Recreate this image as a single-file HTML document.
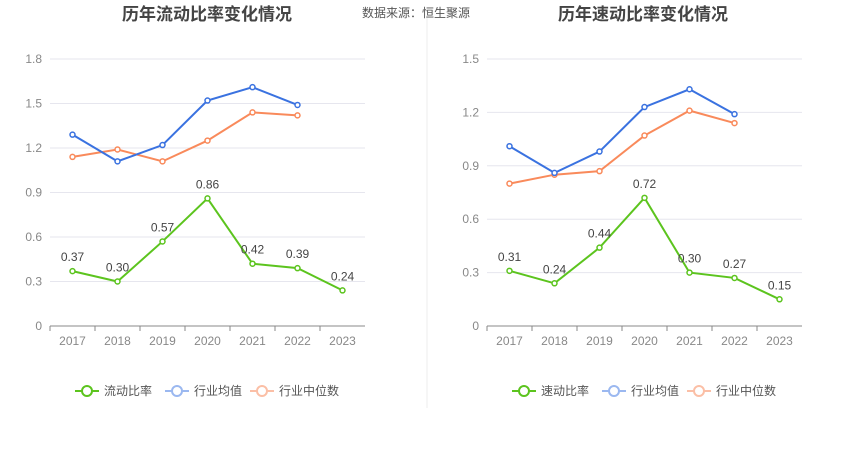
<!DOCTYPE html>
<html><head><meta charset="utf-8"><style>
body{margin:0;background:#fff;font-family:"Liberation Sans","Noto Sans CJK SC",sans-serif;}
svg text{font-family:"Liberation Sans","Noto Sans CJK SC",sans-serif;}
</style></head><body>
<svg id="c" width="850" height="458" xmlns="http://www.w3.org/2000/svg">
<line x1="427" y1="15" x2="427" y2="408" stroke="#eee"/>
<text x="207" y="20" text-anchor="middle" font-size="17" font-weight="bold" fill="#444">历年流动比率变化情况</text>
<text x="362" y="17" font-size="12" fill="#555">数据来源：恒生聚源</text>
<text x="643" y="20" text-anchor="middle" font-size="17" font-weight="bold" fill="#444">历年速动比率变化情况</text>
</svg>
<script>
const years=["2017","2018","2019","2020","2021","2022","2023"];
const leftTicks=[0,0.3,0.6,0.9,1.2,1.5,1.8];
const leftRatio=[0.37,0.30,0.57,0.86,0.42,0.39,0.24];
const leftAvg=[1.29,1.11,1.22,1.52,1.61,1.49];
const leftMed=[1.14,1.19,1.11,1.25,1.44,1.42];
const rightTicks=[0,0.3,0.6,0.9,1.2,1.5];
const rightRatio=[0.31,0.24,0.44,0.72,0.30,0.27,0.15];
const rightAvg=[1.01,0.86,0.98,1.23,1.33,1.19];
const rightMed=[0.80,0.85,0.87,1.07,1.21,1.14];
const NS="http://www.w3.org/2000/svg";
const svg=document.getElementById('c');
function mk(tag,attrs,parent){const e=document.createElementNS(NS,tag);for(const k in attrs)e.setAttribute(k,attrs[k]);(parent||svg).appendChild(e);return e;}
function chart(prefix,x0,x1,ticks,maxV,ratio,avg,med,name){
  const yTop=59,yBot=326;
  const y=v=>yBot-(v/maxV)*(yBot-yTop);
  const step=(x1-x0)/years.length;
  const x=i=>x0+step*(i+0.5);
  ticks.forEach(t=>{
    const l=mk('line',{x1:x0,x2:x1,y1:y(t),y2:y(t),stroke:t===0?'#888':'#e6e6ee'});
    
    
    const tx=mk('text',{x:x0-8,y:y(t)+4,'text-anchor':'end','font-size':12,fill:'#888'});
    tx.textContent=t===0?'0':t.toFixed(1);
    
    
  });
  years.forEach((yr,i)=>{
    const tk=mk('line',{x1:x0+step*i,x2:x0+step*i,y1:yBot,y2:yBot+5,stroke:'#888'});
    
    
    const tx=mk('text',{x:x(i),y:yBot+19,'text-anchor':'middle','font-size':12,fill:'#888'});
    tx.textContent=yr;
    
    
  });
  function series(vals,color,sname,labels){
    const pl=mk('polyline',{points:vals.map((v,i)=>x(i)+','+y(v)).join(' '),fill:'none',stroke:color,'stroke-width':2});
    
    
    vals.forEach((v,i)=>{
      const c=mk('circle',{cx:x(i),cy:y(v),r:2.5,fill:'#fff',stroke:color,'stroke-width':1.5});
      
      
      if(labels){
        const t=mk('text',{x:x(i),y:y(v)-10,'text-anchor':'middle','font-size':12,fill:'#444'});
        t.textContent=v.toFixed(2);
        
        
      }
    });
  }
  series(med,'#f98a5b','median',false);
  series(avg,'#3a72e0','average',false);
  series(ratio,'#5cc41e','ratio',true);
  const leg=[[name,'#5cc41e'],['行业均值','#9bb8f0'],['行业中位数','#fbbfa6']];
  const lx=[x0+25,x0+115,x0+200];
  leg.forEach((L,i)=>{
    const g=mk('g',{});
    
    
    mk('line',{x1:lx[i],x2:lx[i]+24,y1:391,y2:391,stroke:L[1],'stroke-width':2},g);
    mk('circle',{cx:lx[i]+12,cy:391,r:5,fill:'#fff',stroke:L[1],'stroke-width':2},g);
    const t=mk('text',{x:lx[i]+29,y:395,'font-size':12,fill:'#555'},g);
    t.textContent=L[0];
  });
}
chart('left',50,365,leftTicks,1.8,leftRatio,leftAvg,leftMed,'流动比率');
chart('right',487,802,rightTicks,1.5,rightRatio,rightAvg,rightMed,'速动比率');
</script>
</body></html>
